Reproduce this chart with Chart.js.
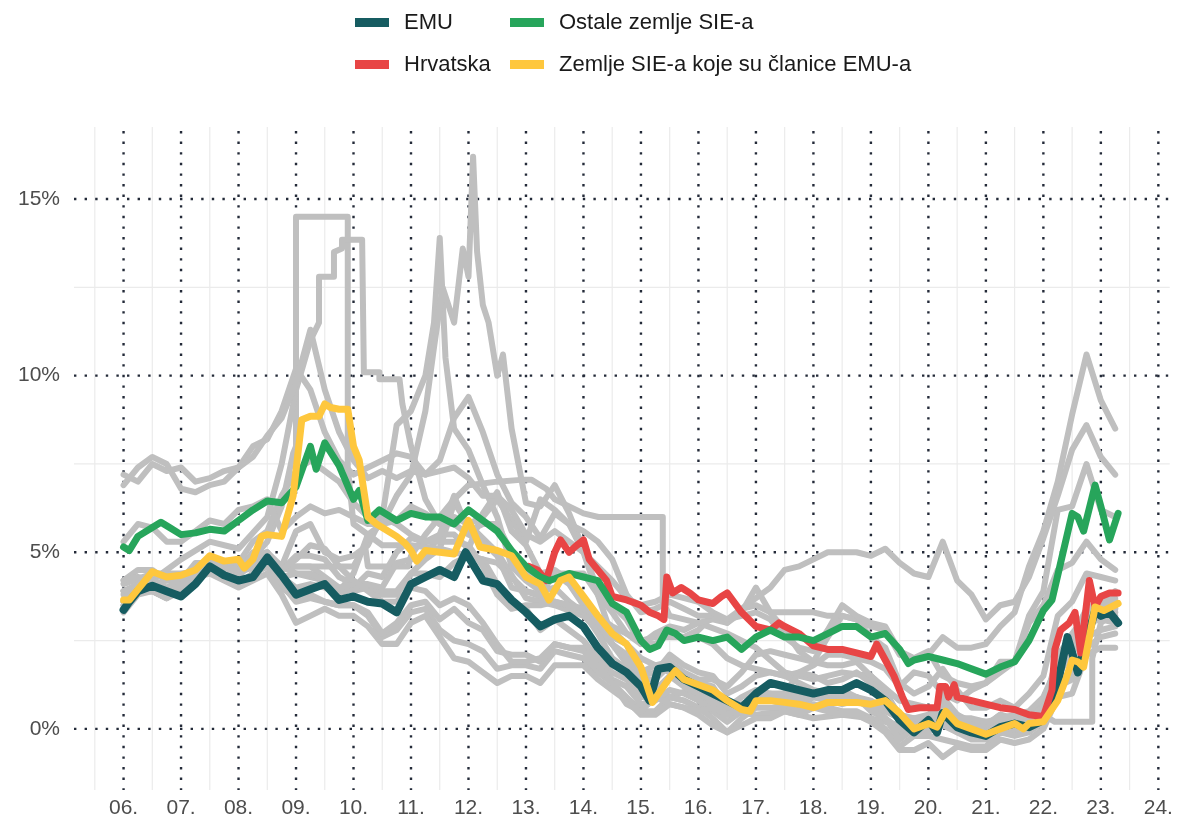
<!DOCTYPE html>
<html>

<head>
  <meta charset="utf-8">
  <title>Dugoročne kamatne stope</title>
  <style>
    body { margin: 0; background: #fff; }
    .wrap { position: relative; width: 1179px; height: 822px; }
    .legend { font-family: "Liberation Sans", Arial, sans-serif; font-size: 22px; color: #1a1a1a; }
    .legend .item { position: absolute; display: flex; align-items: center; height: 26px; white-space: nowrap; }
    .legend .swatch { width: 34px; height: 9px; margin-right: 15px; }
  </style>
</head>

<body>
  <div class="wrap">
    <canvas id="chart" width="1179" height="822"></canvas>
    <div class="legend">
      <div class="item" style="left:355px;top:9px"><span class="swatch" style="background:#165c61"></span>EMU</div>
      <div class="item" style="left:510px;top:9px"><span class="swatch" style="background:#27a55b"></span>Ostale zemlje SIE-a</div>
      <div class="item" style="left:355px;top:51px"><span class="swatch" style="background:#e84545"></span>Hrvatska</div>
      <div class="item" style="left:510px;top:51px"><span class="swatch" style="background:#fec73d"></span>Zemlje SIE-a koje su članice EMU-a</div>
    </div>
  </div>

  <script src="https://cdn.jsdelivr.net/npm/chart.js"></script>

  <script>
    // axis ticks
    const yearTicks = [2006, 2007, 2008, 2009, 2010, 2011, 2012, 2013, 2014, 2015,
      2016, 2017, 2018, 2019, 2020, 2021, 2022, 2023, 2024];
    const yearLabels = ['06.', '07.', '08.', '09.', '10.', '11.', '12.', '13.', '14.', '15.',
      '16.', '17.', '18.', '19.', '20.', '21.', '22.', '23.', '24.'];
    const pctTicks = [0, 5, 10, 15];
    const pctLabels = ['0%', '5%', '10%', '15%'];

    // quarterly dates shared by most grey lines
    const qDates = [
      2006, 2006.25, 2006.5, 2006.75, 2007, 2007.25, 2007.5, 2007.75,
      2008, 2008.25, 2008.5, 2008.75, 2009, 2009.25, 2009.5, 2009.75,
      2010, 2010.25, 2010.5, 2010.75, 2011, 2011.25, 2011.5, 2011.75,
      2012, 2012.25, 2012.5, 2012.75, 2013, 2013.25, 2013.5, 2013.75,
      2014, 2014.25, 2014.5, 2014.75, 2015, 2015.25, 2015.5, 2015.75,
      2016, 2016.25, 2016.5, 2016.75, 2017, 2017.25, 2017.5, 2017.75,
      2018, 2018.25, 2018.5, 2018.75, 2019, 2019.25, 2019.5, 2019.75,
      2020, 2020.25, 2020.5, 2020.75, 2021, 2021.25, 2021.5, 2021.75,
      2022, 2022.25, 2022.5, 2022.75, 2023, 2023.25
    ];

    // individual countries (grey)
    const greyRO = [
      7.2, 7.0, 7.5, 7.3, 7.4, 7.0, 7.1, 7.3, 7.4, 7.7, 8.3, 8.8, 9.8, 11.3, 9.6, 8.4,
      7.6, 7.1, 7.3, 7.1, 7.3, 7.2, 7.3, 7.4, 7.1, 6.6, 6.6, 6.2, 5.5, 5.3, 5.6, 5.3,
      5.0, 4.6, 4.2, 3.7, 3.5, 3.6, 3.8, 3.7, 3.6, 3.3, 3.1, 3.4, 3.7, 4.0, 4.5, 4.6,
      4.8, 5.0, 5.0, 5.0, 4.9, 5.1, 4.7, 4.4, 4.3, 5.3, 4.2, 3.8, 3.1, 3.5, 3.6, 4.3,
      5.4, 6.6, 7.9, 8.6, 7.7, 7.2
    ];
    const greyHU = [
      6.9, 7.4, 7.7, 7.5, 6.8, 6.7, 6.9, 7.0, 7.4, 8.0, 8.2, 9.0, 10.2, 9.6, 8.4, 7.6,
      7.2, 7.4, 7.6, 7.8, 7.7, 7.2, 7.6, 8.8, 9.4, 8.4, 7.2, 6.4, 6.0, 5.4, 6.1, 5.8,
      5.6, 5.3, 4.8, 3.8, 3.3, 3.4, 3.6, 3.4, 3.2, 3.2, 3.1, 3.2, 3.3, 3.1, 2.6, 2.3,
      2.2, 2.8, 3.5, 3.2, 3.0, 2.9, 2.2, 2.0, 2.1, 2.6, 2.3, 2.3, 2.4, 2.9, 3.3, 4.6,
      5.6, 7.0, 8.9, 10.6, 9.3, 8.5
    ];
    const greyPL = [
      5.3, 5.8, 5.7, 5.3, 5.3, 5.6, 5.9, 5.8, 6.2, 6.3, 6.5, 5.6, 6.0, 6.3, 6.1, 6.2,
      6.0, 5.8, 5.8, 5.9, 6.3, 6.1, 5.8, 5.8, 5.5, 5.3, 4.9, 4.0, 3.9, 3.8, 4.4, 4.4,
      4.4, 3.8, 3.3, 2.7, 2.4, 2.7, 2.9, 2.8, 3.0, 3.1, 3.0, 3.4, 3.5, 3.3, 3.3, 3.3,
      3.3, 3.2, 3.2, 3.1, 2.9, 2.8, 2.1, 2.0, 2.2, 1.5, 1.3, 1.2, 1.3, 1.6, 1.9, 3.2,
      3.9, 6.2, 6.3, 7.5, 6.2, 6.0
    ];
    const greyCZ = [
      3.6, 4.0, 4.1, 3.8, 4.1, 4.3, 4.6, 4.6, 4.5, 4.8, 5.0, 4.5, 4.8, 5.2, 5.1, 4.6,
      4.2, 3.9, 3.6, 3.6, 4.0, 3.9, 3.5, 3.7, 3.5, 3.0, 2.4, 1.9, 1.9, 2.0, 2.4, 2.3,
      2.2, 1.8, 1.3, 0.7, 0.5, 0.9, 0.7, 0.6, 0.5, 0.6, 0.4, 0.6, 0.8, 1.0, 1.0, 1.6,
      1.8, 2.1, 2.1, 2.0, 1.9, 1.7, 1.2, 1.6, 1.5, 1.0, 0.8, 1.1, 1.3, 1.9, 1.9, 3.0,
      3.5, 4.5, 4.7, 5.3, 4.8, 4.5
    ];
    const greyBG = [
      4.2, 4.3, 4.2, 4.0, 4.2, 4.6, 4.8, 4.7, 4.7, 5.3, 5.6, 6.6, 7.3, 7.6, 7.3, 7.0,
      6.4, 6.0, 6.0, 5.8, 5.5, 5.3, 5.3, 5.3, 5.2, 4.6, 3.8, 3.4, 3.5, 3.5, 3.6, 3.5,
      3.4, 3.2, 2.9, 2.7, 2.5, 2.6, 2.6, 2.6, 2.6, 2.4, 2.0, 1.8, 1.7, 1.6, 1.5, 1.3,
      1.1, 1.0, 1.1, 0.9, 0.7, 0.5, 0.3, 0.3, 0.3, 0.4, 0.3, 0.3, 0.2, 0.3, 0.4, 0.5,
      0.9, 1.8, 2.7, 3.2, 3.4, 3.9
    ];
    const greyIT = [
      3.9, 4.1, 4.2, 3.9, 4.2, 4.7, 4.7, 4.7, 4.5, 5.0, 4.8, 4.6, 4.4, 4.4, 4.2, 4.0,
      4.1, 4.1, 4.0, 4.7, 4.8, 4.9, 5.5, 6.6, 5.6, 5.8, 5.8, 5.0, 4.4, 4.2, 4.4, 4.1,
      3.5, 3.0, 2.4, 2.0, 1.6, 1.8, 1.9, 1.6, 1.4, 1.4, 1.2, 1.6, 2.1, 2.2, 2.1, 2.0,
      1.9, 2.6, 3.2, 3.1, 2.6, 2.3, 1.3, 1.0, 1.2, 1.7, 1.1, 0.6, 0.6, 0.8, 0.6, 1.0,
      1.5, 3.2, 3.6, 4.4, 4.3, 4.2
    ];
    const greyES = [
      3.5, 4.0, 4.0, 3.8, 4.1, 4.5, 4.6, 4.4, 4.3, 4.8, 4.8, 4.3, 4.0, 4.1, 4.0, 3.8,
      4.0, 4.4, 4.3, 5.0, 5.4, 5.3, 5.5, 5.5, 5.1, 6.1, 6.7, 5.6, 5.2, 4.4, 4.5, 4.2,
      3.7, 3.0, 2.4, 2.1, 1.5, 1.6, 2.1, 1.8, 1.6, 1.5, 1.0, 1.2, 1.5, 1.6, 1.5, 1.6,
      1.5, 1.3, 1.4, 1.6, 1.3, 1.0, 0.4, 0.3, 0.4, 0.7, 0.4, 0.2, 0.1, 0.4, 0.3, 0.4,
      0.6, 1.8, 2.1, 3.0, 3.4, 3.4
    ];
    const greyDE = [
      3.3, 3.8, 3.9, 3.7, 3.9, 4.3, 4.4, 4.2, 4.0, 4.2, 4.4, 3.8, 3.0, 3.2, 3.4, 3.2,
      3.2, 2.9, 2.4, 2.4, 3.0, 3.2, 2.6, 2.0, 1.9, 1.6, 1.3, 1.5, 1.5, 1.3, 1.8, 1.8,
      1.8, 1.4, 1.1, 0.8, 0.4, 0.4, 0.7, 0.6, 0.4, 0.1, -0.1, 0.1, 0.3, 0.3, 0.5, 0.4,
      0.6, 0.5, 0.4, 0.4, 0.2, -0.1, -0.6, -0.6, -0.4, -0.8, -0.5, -0.6, -0.6, -0.3, -0.4, -0.3,
      0.0, 0.9, 1.0, 2.1, 2.3, 2.3
    ];
    const greyFR = [
      3.4, 3.9, 3.9, 3.7, 4.0, 4.4, 4.5, 4.3, 4.1, 4.4, 4.6, 4.1, 3.6, 3.7, 3.6, 3.5,
      3.5, 3.3, 2.7, 3.0, 3.5, 3.6, 3.1, 3.4, 3.0, 2.8, 2.2, 2.1, 2.1, 1.9, 2.4, 2.3,
      2.3, 1.9, 1.4, 1.2, 0.7, 0.8, 1.1, 1.0, 0.8, 0.5, 0.2, 0.5, 0.9, 0.8, 0.8, 0.8,
      0.9, 0.8, 0.7, 0.8, 0.6, 0.3, -0.3, 0.0, 0.0, 0.1, -0.1, -0.3, -0.3, 0.1, 0.1, 0.1,
      0.4, 1.4, 1.6, 2.6, 2.8, 2.9
    ];
    const greyNL = [
      3.4, 3.9, 3.9, 3.7, 4.0, 4.4, 4.5, 4.3, 4.1, 4.4, 4.6, 4.0, 3.7, 3.8, 3.6, 3.5,
      3.5, 3.2, 2.6, 2.8, 3.3, 3.4, 2.8, 2.5, 2.4, 2.2, 1.7, 1.8, 1.8, 1.7, 2.2, 2.1,
      2.0, 1.6, 1.3, 0.9, 0.5, 0.5, 0.9, 0.8, 0.6, 0.3, -0.1, 0.3, 0.6, 0.6, 0.6, 0.5,
      0.7, 0.6, 0.5, 0.5, 0.3, 0.0, -0.5, -0.2, -0.2, -0.3, -0.4, -0.5, -0.5, -0.1, -0.2, -0.1,
      0.2, 1.2, 1.4, 2.3, 2.6, 2.7
    ];
    const greySI = [
      3.8, 3.9, 3.9, 3.8, 4.3, 4.5, 4.6, 4.5, 4.4, 4.7, 4.8, 4.5, 4.6, 4.6, 4.3, 4.0,
      3.9, 4.0, 3.9, 3.9, 4.4, 4.8, 5.1, 6.4, 5.8, 6.0, 6.5, 5.9, 5.3, 6.5, 6.2, 5.8,
      5.0, 3.8, 2.6, 2.4, 1.4, 1.4, 1.8, 1.5, 1.3, 1.2, 0.6, 0.9, 1.1, 1.0, 0.9, 0.9,
      0.9, 1.0, 0.9, 0.9, 0.5, 0.3, 0.0, 0.2, 0.2, 0.5, 0.0, -0.1, -0.1, 0.2, 0.0, 0.3,
      0.6, 2.1, 2.6, 3.4, 3.6, 3.4
    ];
    const greySK = [
      4.2, 4.5, 4.5, 4.2, 4.2, 4.6, 4.6, 4.5, 4.4, 4.6, 4.7, 4.5, 4.9, 4.9, 4.8, 4.3,
      4.1, 4.0, 3.8, 3.8, 4.4, 4.4, 4.3, 4.7, 4.9, 4.8, 4.1, 3.6, 3.4, 2.8, 3.1, 2.8,
      2.5, 2.0, 1.6, 1.4, 0.9, 0.9, 0.9, 0.8, 0.6, 0.5, 0.4, 0.6, 1.0, 0.9, 0.8, 0.9,
      0.9, 0.9, 0.9, 0.9, 0.7, 0.3, -0.1, 0.0, -0.1, 0.2, -0.1, -0.2, -0.2, 0.0, -0.1, 0.2,
      0.6, 1.8, 2.3, 3.3, 3.6, 3.7
    ];

    // grey lines with their own dates
    const ptDates = [
      2006, 2006.25, 2006.5, 2006.75, 2007, 2007.25, 2007.5, 2007.75,
      2008, 2008.25, 2008.5, 2008.75, 2009, 2009.25, 2009.5, 2009.75,
      2010, 2010.25, 2010.5, 2010.75, 2011, 2011.25, 2011.4, 2011.55, 2011.75, 2011.9,
      2012, 2012.08, 2012.15, 2012.25, 2012.35, 2012.5, 2012.6, 2012.75,
      2013, 2013.25, 2013.5, 2013.75, 2014, 2014.25, 2014.5, 2014.75,
      2015, 2015.25, 2015.5, 2015.75, 2016, 2016.25, 2016.5, 2016.75,
      2017, 2017.25, 2017.5, 2017.75, 2018, 2018.25, 2018.5, 2018.75,
      2019, 2019.25, 2019.5, 2019.75, 2020, 2020.25, 2020.5, 2020.75,
      2021, 2021.25, 2021.5, 2021.75, 2022, 2022.25, 2022.5, 2022.75, 2023, 2023.25
    ];
    const greyPT = [
      3.6, 4.1, 4.1, 3.9, 4.2, 4.6, 4.7, 4.5,
      4.4, 4.9, 5.0, 4.3, 4.4, 4.3, 4.2, 3.9,
      4.4, 5.5, 5.8, 6.6, 7.2, 9.0, 10.8, 12.5, 11.5, 13.6,
      12.8, 16.2, 13.5, 12.0, 11.5, 10.0, 10.6, 8.5,
      6.4, 6.3, 6.9, 6.1, 5.1, 3.9, 3.5, 3.1,
      2.4, 2.4, 2.7, 2.6, 2.8, 3.2, 3.0, 3.3,
      4.0, 3.3, 2.8, 2.2, 1.9, 1.8, 1.8, 1.9,
      1.5, 1.1, 0.3, 0.2, 0.3, 0.9, 0.4, 0.1,
      0.1, 0.4, 0.2, 0.3, 0.6, 2.0, 2.4, 3.3, 3.4, 3.2
    ];
    const ieDates = [
      2006, 2006.25, 2006.5, 2006.75, 2007, 2007.25, 2007.5, 2007.75,
      2008, 2008.25, 2008.5, 2008.75, 2009, 2009.25, 2009.5, 2009.75,
      2010, 2010.25, 2010.5, 2010.75, 2011, 2011.25, 2011.4, 2011.5, 2011.6, 2011.75,
      2012, 2012.25, 2012.5, 2012.75, 2013, 2013.25, 2013.5, 2013.75,
      2014, 2014.25, 2014.5, 2014.75, 2015, 2015.25, 2015.5, 2015.75,
      2016, 2016.25, 2016.5, 2016.75, 2017, 2017.25, 2017.5, 2017.75,
      2018, 2018.25, 2018.5, 2018.75, 2019, 2019.25, 2019.5, 2019.75,
      2020, 2020.25, 2020.5, 2020.75, 2021, 2021.25, 2021.5, 2021.75,
      2022, 2022.25, 2022.5, 2022.75, 2023, 2023.25
    ];
    const greyIE = [
      3.5, 4.0, 4.0, 3.8, 4.1, 4.6, 4.6, 4.5,
      4.5, 4.8, 5.0, 4.6, 5.6, 5.8, 5.0, 4.8,
      4.9, 5.2, 6.0, 8.6, 9.0, 10.0, 11.5, 13.9, 10.5, 8.5,
      7.9, 6.9, 6.0, 4.6, 4.2, 3.9, 4.0, 3.6,
      3.3, 2.7, 2.0, 1.7, 1.2, 1.1, 1.5, 1.2,
      1.0, 0.8, 0.4, 0.6, 1.0, 0.8, 0.7, 0.6,
      0.9, 0.8, 0.9, 0.9, 0.6, 0.3, 0.0, 0.1,
      0.1, 0.2, 0.0, -0.1, -0.1, 0.3, 0.2, 0.3,
      0.7, 1.8, 2.2, 3.0, 3.1, 3.0
    ];
    const lvDates = [
      2006, 2006.5, 2007, 2007.5, 2008, 2008.5, 2008.75, 2009, 2009.25, 2009.4,
      2009.4, 2009.66, 2009.66, 2009.8, 2009.8, 2010.15, 2010.18, 2010.45, 2010.45, 2010.8,
      2010.85, 2011, 2011.25, 2011.5, 2011.75, 2012, 2012.5, 2013, 2013.5, 2014,
      2014.5, 2015, 2015.5, 2016, 2016.5, 2017, 2017.5, 2018, 2018.5, 2019,
      2019.5, 2020, 2020.5, 2021, 2021.5, 2022, 2022.25, 2022.5, 2022.75, 2023,
      2023.25
    ];
    const greyLV = [
      3.9, 4.2, 4.8, 5.3, 5.1, 6.0, 7.5, 9.6, 11.0, 11.5,
      12.8, 12.8, 13.5, 13.6, 13.85, 13.85, 10.1, 10.1, 9.9, 9.9,
      9.2, 8.0, 6.5, 5.8, 6.0, 5.8, 5.0, 3.7, 3.5, 3.2,
      2.4, 1.3, 0.9, 1.2, 0.5, 0.9, 1.0, 0.9, 1.0, 0.8,
      0.3, 0.1, 0.2, 0.0, 0.1, 0.3, 1.5, 2.2, 3.3, 3.5,
      3.6
    ];
    const ltDates = [
      2006, 2006.5, 2007, 2007.5, 2008, 2008.5, 2008.75, 2008.95, 2009, 2009,
      2009.9, 2009.9, 2010, 2010.5, 2011, 2011.5, 2012, 2012.5, 2013, 2013.5,
      2014, 2014.5, 2015, 2015.5, 2016, 2016.5, 2017, 2017.5, 2018, 2018.5,
      2019, 2019.5, 2020, 2020.5, 2021, 2021.5, 2022, 2022.25, 2022.5, 2022.75,
      2023, 2023.25
    ];
    const greyLT = [
      3.9, 4.1, 4.3, 4.6, 4.4, 5.3, 6.3, 7.8, 8.0, 14.5,
      14.5, 7.4, 5.8, 5.2, 5.2, 5.1, 4.9, 4.7, 3.9, 3.6,
      3.4, 2.8, 2.0, 1.6, 0.9, 0.5, 0.4, 0.5, 0.3, 0.4,
      0.3, 0.1, 0.2, 0.1, 0.1, 0.2, 0.4, 1.6, 2.2, 3.1,
      3.4, 3.5
    ];
    const cyDates = [
      2006, 2006.5, 2007, 2007.5, 2008, 2008.5, 2009, 2009.5, 2010, 2010.2,
      2010.25, 2010.95, 2011, 2011.25, 2011.5, 2011.75, 2012, 2012.5, 2012.9, 2013.1,
      2013.35, 2013.5, 2013.75, 2014, 2014.26, 2015.38, 2015.38, 2015.5, 2016, 2016.5,
      2017, 2017.5, 2018, 2018.5, 2019, 2019.5, 2020, 2020.5, 2021, 2021.5,
      2022, 2022.2, 2022.85, 2022.85, 2023, 2023.25
    ];
    const greyCY = [
      4.1, 4.4, 4.4, 4.5, 4.5, 4.6, 4.6, 4.6, 4.6, 5.2,
      4.6, 4.6, 4.9, 5.5, 6.0, 6.5, 6.9, 7.0, 7.05, 7.05,
      6.8, 6.5, 6.3, 6.1, 6.0, 6.0, 3.6, 3.2, 3.0, 2.7,
      2.3, 1.6, 1.4, 1.6, 1.5, 0.8, 0.6, 0.3, 0.2, 0.2,
      0.4, 0.2, 0.2, 2.0, 3.0, 3.3
    ];

    // EMU
    const emuDates = [
      2006, 2006.1, 2006.25, 2006.5, 2006.75, 2007, 2007.25, 2007.5, 2007.75,
      2008, 2008.25, 2008.5, 2008.75, 2009, 2009.25, 2009.5, 2009.75,
      2010, 2010.25, 2010.5, 2010.75, 2011, 2011.25, 2011.5, 2011.75, 2011.95,
      2012.25, 2012.5, 2012.75, 2013, 2013.25, 2013.5, 2013.75,
      2014, 2014.25, 2014.5, 2014.75, 2015, 2015.15, 2015.3, 2015.5, 2015.75,
      2016, 2016.25, 2016.5, 2016.75, 2017, 2017.25, 2017.5, 2017.75,
      2018, 2018.25, 2018.5, 2018.75, 2019, 2019.25, 2019.5, 2019.75,
      2020, 2020.15, 2020.25, 2020.5, 2020.75, 2021, 2021.25, 2021.5, 2021.75,
      2022, 2022.25, 2022.42, 2022.6, 2022.75, 2022.9, 2023, 2023.15, 2023.3
    ];
    const emuValues = [
      3.37, 3.6, 3.9, 4.05, 3.9, 3.75, 4.1, 4.6, 4.35,
      4.2, 4.3, 4.85, 4.35, 3.8, 3.95, 4.1, 3.65,
      3.75, 3.6, 3.55, 3.3, 4.1, 4.3, 4.5, 4.3, 5.0,
      4.2, 4.1, 3.65, 3.3, 2.9, 3.1, 3.2,
      2.9, 2.3, 1.85, 1.6, 1.2, 0.8, 1.7, 1.75, 1.4,
      1.2, 1.0, 0.8, 0.6, 1.0, 1.3, 1.2, 1.1,
      1.0, 1.1, 1.1, 1.3, 1.1, 0.8, 0.25, -0.1,
      0.25, -0.1, 0.45, 0.05, -0.1, -0.2, 0.05, 0.15, 0.05,
      0.25, 1.3, 2.6, 1.6, 2.5, 3.35, 3.2, 3.3, 3.0
    ];

    // Ostale zemlje SIE-a
    const ostaleDates = [
      2006, 2006.1, 2006.25, 2006.5, 2006.65, 2006.8, 2007, 2007.25, 2007.5, 2007.75,
      2008, 2008.25, 2008.5, 2008.75, 2009, 2009.25, 2009.35, 2009.5, 2009.75,
      2010, 2010.1, 2010.25, 2010.45, 2010.75, 2011, 2011.25, 2011.5, 2011.75,
      2012, 2012.25, 2012.5, 2012.75, 2013, 2013.25, 2013.4, 2013.5, 2013.75,
      2014, 2014.25, 2014.5, 2014.75, 2015, 2015.15, 2015.3, 2015.45, 2015.6, 2015.75,
      2016, 2016.25, 2016.5, 2016.75, 2017, 2017.25, 2017.5, 2017.75,
      2018, 2018.25, 2018.5, 2018.75, 2019, 2019.25, 2019.5, 2019.65, 2019.75,
      2020, 2020.25, 2020.5, 2020.75, 2021, 2021.25, 2021.5, 2021.75,
      2022, 2022.15, 2022.3, 2022.5, 2022.6, 2022.7, 2022.9, 2023, 2023.15, 2023.3
    ];
    const ostaleValues = [
      5.15, 5.05, 5.45, 5.7, 5.85, 5.7, 5.5, 5.55, 5.65, 5.6,
      5.9, 6.2, 6.45, 6.4, 6.85, 8.0, 7.35, 8.1, 7.45,
      6.5, 6.75, 5.9, 6.2, 5.9, 6.1, 6.0, 6.0, 5.8,
      6.2, 5.9, 5.6, 5.05, 4.6, 4.3, 4.2, 4.25, 4.4,
      4.3, 4.2, 3.55, 3.3, 2.5, 2.25, 2.35, 2.8, 2.7, 2.5,
      2.6, 2.5, 2.6, 2.25, 2.6, 2.8, 2.6, 2.6,
      2.5, 2.7, 2.9, 2.9, 2.6, 2.7, 2.25, 1.85, 1.95,
      2.05, 1.95, 1.85, 1.7, 1.55, 1.75, 1.9, 2.5,
      3.35, 3.65, 4.7, 6.1, 6.0, 5.6, 6.9, 6.3, 5.35, 6.1
    ];

    // Hrvatska
    const hrDates = [
      2013.05, 2013.2, 2013.35, 2013.5, 2013.6, 2013.75, 2013.85,
      2014, 2014.1, 2014.25, 2014.4, 2014.5, 2014.75,
      2015, 2015.15, 2015.3, 2015.4, 2015.45, 2015.55, 2015.7, 2015.85,
      2016, 2016.25, 2016.4, 2016.5, 2016.75, 2017, 2017.25, 2017.4, 2017.5, 2017.75,
      2018, 2018.25, 2018.5, 2018.75, 2019, 2019.1, 2019.25, 2019.4, 2019.55, 2019.65, 2019.85,
      2020, 2020.15, 2020.2, 2020.3, 2020.35, 2020.45, 2020.5, 2020.75,
      2021, 2021.25, 2021.5, 2021.75,
      2022, 2022.15, 2022.2, 2022.3, 2022.45, 2022.55, 2022.65, 2022.8, 2022.9,
      2023, 2023.15, 2023.3
    ];
    const hrValues = [
      4.6, 4.5, 4.2, 5.0, 5.35, 5.0, 5.15,
      5.35, 4.8, 4.5, 4.2, 3.75, 3.65,
      3.5, 3.3, 3.2, 3.1, 4.3, 3.85, 4.0, 3.85,
      3.65, 3.55, 3.75, 3.85, 3.3, 2.9, 2.8, 3.0, 2.9, 2.7,
      2.35, 2.25, 2.25, 2.15, 2.05, 2.4, 1.95, 1.5, 0.9, 0.55, 0.6,
      0.6, 0.6, 1.2, 1.2, 0.9, 1.25, 0.9, 0.8,
      0.7, 0.6, 0.55, 0.4,
      0.35, 1.1, 2.25, 2.8, 3.0, 3.3, 2.15, 4.2, 3.45,
      3.75, 3.85, 3.85
    ];

    // Zemlje SIE-a koje su članice EMU-a
    const sieEmuDates = [
      2006, 2006.1, 2006.25, 2006.5, 2006.75, 2007, 2007.25, 2007.5, 2007.75,
      2008, 2008.1, 2008.25, 2008.4, 2008.5, 2008.75, 2008.95,
      2009.1, 2009.25, 2009.4, 2009.5, 2009.6, 2009.75, 2009.9,
      2010, 2010.1, 2010.25, 2010.4, 2010.5, 2010.75, 2010.9,
      2011, 2011.1, 2011.25, 2011.5, 2011.75, 2012, 2012.2, 2012.5, 2012.75,
      2013, 2013.25, 2013.4, 2013.6, 2013.75, 2014, 2014.25, 2014.5, 2014.75,
      2015, 2015.2, 2015.35, 2015.5, 2015.6, 2015.75,
      2016, 2016.25, 2016.5, 2016.75, 2016.9, 2017, 2017.25, 2017.5, 2017.75,
      2018, 2018.25, 2018.5, 2018.75, 2019, 2019.25, 2019.5, 2019.75,
      2020, 2020.15, 2020.3, 2020.5, 2020.75, 2021, 2021.25, 2021.5, 2021.65, 2021.75,
      2022, 2022.25, 2022.4, 2022.5, 2022.6, 2022.7, 2022.9, 2023.05, 2023.3
    ];
    const sieEmuValues = [
      3.65, 3.65, 3.95, 4.45, 4.3, 4.35, 4.5, 4.9, 4.75,
      4.8, 4.55, 4.8, 5.45, 5.5, 5.45, 6.6,
      8.75, 8.85, 8.85, 9.2, 9.1, 9.05, 9.05,
      8.0, 7.6, 6.0, 5.8, 5.7, 5.45, 5.25,
      5.05, 4.75, 5.05, 5.0, 4.95, 5.9, 5.15, 5.05, 4.9,
      4.3, 4.1, 3.65, 4.2, 4.3, 3.75, 3.2, 2.7, 2.4,
      1.75, 0.75, 1.1, 1.45, 1.65, 1.4,
      1.25, 1.1, 0.8, 0.55, 0.5, 0.8, 0.8, 0.75, 0.7,
      0.6, 0.75, 0.75, 0.75, 0.7, 0.8, 0.45, 0.0,
      0.15, 0.05, 0.5, 0.15, 0.0, -0.15, 0.0, 0.15, 0.0, 0.15,
      0.2, 0.8, 1.45, 1.95, 1.9, 1.75, 3.45, 3.35, 3.55
    ];

    const greyLines = [
      [qDates, greyRO], [qDates, greyHU], [qDates, greyPL], [qDates, greyCZ],
      [qDates, greyBG], [qDates, greyIT], [qDates, greyES], [qDates, greyDE],
      [qDates, greyFR], [qDates, greyNL], [qDates, greySI], [qDates, greySK],
      [ptDates, greyPT], [ieDates, greyIE], [lvDates, greyLV], [ltDates, greyLT],
      [cyDates, greyCY]
    ];

    const toPoints = (xs, ys) => xs.map((x, i) => ({ x: x, y: ys[i] }));

    const lineBase = {
      pointRadius: 0,
      pointHoverRadius: 0,
      tension: 0,
      fill: false,
      borderJoinStyle: 'round',
      borderCapStyle: 'round'
    };

    const datasets = greyLines.map(([xs, ys]) => ({
      ...lineBase,
      data: toPoints(xs, ys),
      borderColor: '#bfbfbf',
      borderWidth: 6,
      order: 10
    }));

    datasets.push(
      { ...lineBase, label: 'EMU', data: toPoints(emuDates, emuValues), borderColor: '#165c61', borderWidth: 8, order: 4 },
      { ...lineBase, label: 'Hrvatska', data: toPoints(hrDates, hrValues), borderColor: '#e84545', borderWidth: 7, order: 3 },
      { ...lineBase, label: 'Ostale zemlje SIE-a', data: toPoints(ostaleDates, ostaleValues), borderColor: '#27a55b', borderWidth: 7, order: 2 },
      { ...lineBase, label: 'Zemlje SIE-a koje su članice EMU-a', data: toPoints(sieEmuDates, sieEmuValues), borderColor: '#fec73d', borderWidth: 7, order: 1 }
    );

    // grid: light solid minor lines, dark dotted major lines, under the data
    const gridPlugin = {
      id: 'dottedGrid',
      beforeDatasetsDraw(chart) {
        const { ctx, chartArea: a, scales: { x, y } } = chart;
        ctx.save();
        ctx.beginPath();
        ctx.rect(a.left, a.top, a.right - a.left, a.bottom - a.top);
        ctx.clip();

        ctx.strokeStyle = '#ebebeb';
        ctx.lineWidth = 1.2;
        ctx.beginPath();
        [2005].concat(yearTicks).forEach(v => {
          const px = x.getPixelForValue(v + 0.5);
          ctx.moveTo(px, a.top); ctx.lineTo(px, a.bottom);
        });
        pctTicks.forEach(v => {
          const py = y.getPixelForValue(v + 2.5);
          ctx.moveTo(a.left, py); ctx.lineTo(a.right, py);
        });
        ctx.stroke();

        ctx.strokeStyle = '#232a38';
        ctx.lineWidth = 2.4;
        ctx.setLineDash([2.4, 8.2]);
        yearTicks.forEach(v => {
          const px = x.getPixelForValue(v);
          ctx.beginPath(); ctx.moveTo(px, a.top + 4); ctx.lineTo(px, a.bottom); ctx.stroke();
        });
        pctTicks.forEach(v => {
          const py = y.getPixelForValue(v);
          ctx.beginPath(); ctx.moveTo(a.left, py); ctx.lineTo(a.right, py); ctx.stroke();
        });
        ctx.restore();
      }
    };

    const tickFont = { family: '"Liberation Sans", Arial, sans-serif', size: 21 };

    new Chart(document.getElementById('chart'), {
      type: 'line',
      data: { datasets: datasets },
      plugins: [gridPlugin],
      options: {
        responsive: false,
        animation: false,
        events: [],
        layout: { padding: { top: 127, right: 5, left: 0, bottom: 0 } },
        plugins: { legend: { display: false }, tooltip: { enabled: false } },
        scales: {
          x: {
            type: 'linear',
            min: 2005.138,
            max: 2024.2,
            afterBuildTicks: s => { s.ticks = yearTicks.map(v => ({ value: v })); },
            afterFit: s => { s.height = 32; },
            grid: { display: false, drawTicks: false },
            border: { display: false },
            ticks: {
              autoSkip: false,
              maxRotation: 0,
              padding: 6,
              color: '#4d4d4d',
              font: tickFont,
              callback: v => yearLabels[yearTicks.indexOf(v)]
            }
          },
          y: {
            min: -1.73,
            max: 17.04,
            afterBuildTicks: s => { s.ticks = pctTicks.map(v => ({ value: v })); },
            afterFit: s => { s.width = 74; },
            grid: { display: false, drawTicks: false },
            border: { display: false },
            ticks: {
              padding: 14,
              color: '#4d4d4d',
              font: tickFont,
              callback: v => pctLabels[pctTicks.indexOf(v)]
            }
          }
        }
      }
    });
  </script>
</body>

</html>
